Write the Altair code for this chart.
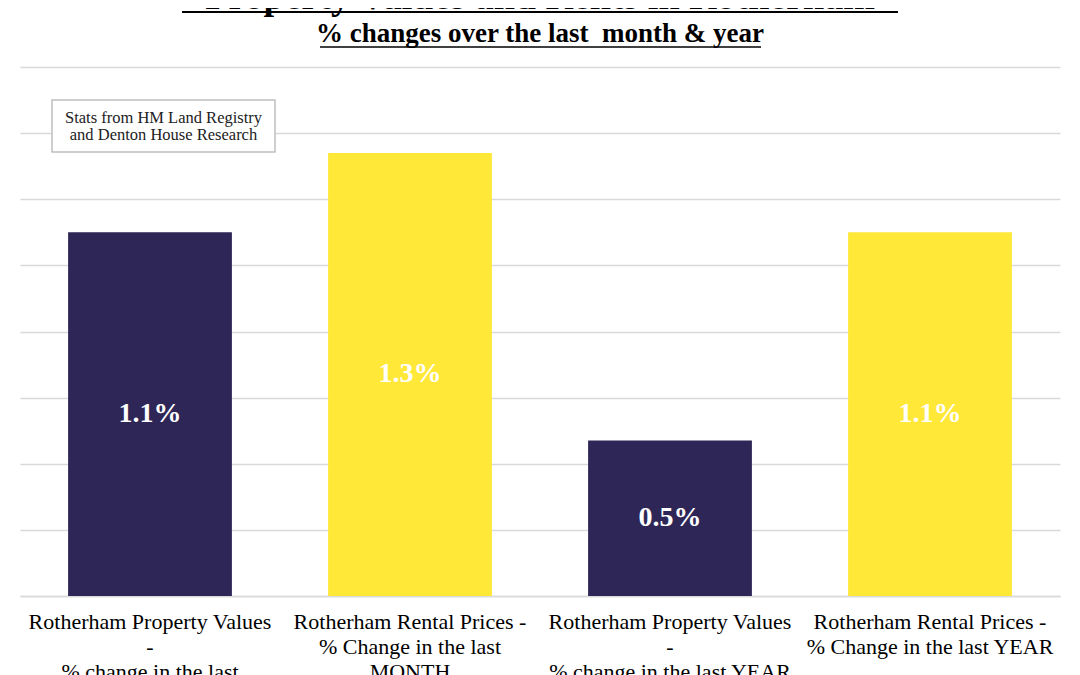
import altair as alt
import pandas as pd

categories = [
    "Rotherham Property Values\n-\n% change in the last\nMONTH",
    "Rotherham Rental Prices -\n% Change in the last\nMONTH",
    "Rotherham Property Values\n-\n% change in the last YEAR",
    "Rotherham Rental Prices -\n% Change in the last YEAR",
]
values = [1.1, 1.34, 0.47, 1.1]
value_labels = ["1.1%", "1.3%", "0.5%", "1.1%"]
bar_colors = ["#2e2656", "#ffe838", "#2e2656", "#ffe838"]
grid_values = [0, 0.2, 0.4, 0.6, 0.8, 1.0, 1.2, 1.4, 1.6]

title_text = "Property Values and Rents in Rotherham"
subtitle_text = "% changes over the last\u00a0 month & year"
note_text = "Stats from HM Land Registry\nand Denton House Research"

SERIF = "Liberation Serif"

df = pd.DataFrame({"category": categories, "value": values,
                   "label": value_labels, "color": bar_colors})

x = alt.X("category:N", sort=categories,
          scale=alt.Scale(paddingInner=0.37, paddingOuter=0.185),
          axis=alt.Axis(title=None, labelAngle=0,
                        labelExpr="split(datum.label, '\\n')",
                        labelFont=SERIF, labelFontSize=22, labelColor="black",
                        labelLineHeight=25, labelPadding=15, ticks=False,
                        domainColor="#d9d9d9", domainWidth=1.5, labelLimit=300))
y = alt.Y("value:Q", scale=alt.Scale(domain=[0, 1.6], nice=False),
          axis=alt.Axis(title=None, labels=False, ticks=False, domain=False,
                        values=grid_values, gridColor="#d9d9d9", gridWidth=1.5))

base = alt.Chart(df)
bars = base.mark_bar().encode(x=x, y=y, color=alt.Color("color:N", scale=None))
bar_text = base.transform_calculate(mid="datum.value / 2").mark_text(
    font=SERIF, fontWeight="bold", fontSize=28, color="white", baseline="middle"
).encode(x=x, y="mid:Q", text="label:N")

title = alt.Chart(pd.DataFrame({"t": [title_text]})).mark_text(
    font=SERIF, fontWeight="bold", fontSize=38, color="black",
    align="center", baseline="alphabetic"
).encode(x=alt.value(520), y=alt.value(-58), text="t:N")
title_ul = alt.Chart(pd.DataFrame({"t": [title_text]})).mark_rule(
    color="black", strokeWidth=2
).encode(x=alt.value(162), x2=alt.value(878), y=alt.value(-55))

subtitle = alt.Chart(pd.DataFrame({"t": [subtitle_text]})).mark_text(
    font=SERIF, fontWeight="bold", fontSize=27, color="black",
    align="center", baseline="alphabetic"
).encode(x=alt.value(520), y=alt.value(-25), text="t:N")
subtitle_ul = alt.Chart(pd.DataFrame({"t": [subtitle_text]})).mark_rule(
    color="black", strokeWidth=1.5
).encode(x=alt.value(300), x2=alt.value(741), y=alt.value(-20))

note_box = alt.Chart(pd.DataFrame({"t": [note_text]})).mark_rect(
    fill="white", stroke="#bfbfbf", strokeWidth=1.5
).encode(x=alt.value(32), x2=alt.value(255), y=alt.value(33), y2=alt.value(85))
note = alt.Chart(pd.DataFrame({"t": [note_text]})).mark_text(
    font=SERIF, fontSize=16.5, color="#222222", lineBreak="\n", lineHeight=17,
    align="center", baseline="middle"
).encode(x=alt.value(143.5), y=alt.value(51), text="t:N")

chart = alt.layer(bars, bar_text, note_box, note, title, title_ul, subtitle, subtitle_ul).properties(
    width=1040, height=529,
    padding={"left": 12, "top": 59, "right": 12, "bottom": 100},
    autosize="none", background="white"
).configure_view(stroke=None)

chart.save("out.html", embed_options={"renderer": "svg", "actions": False})
